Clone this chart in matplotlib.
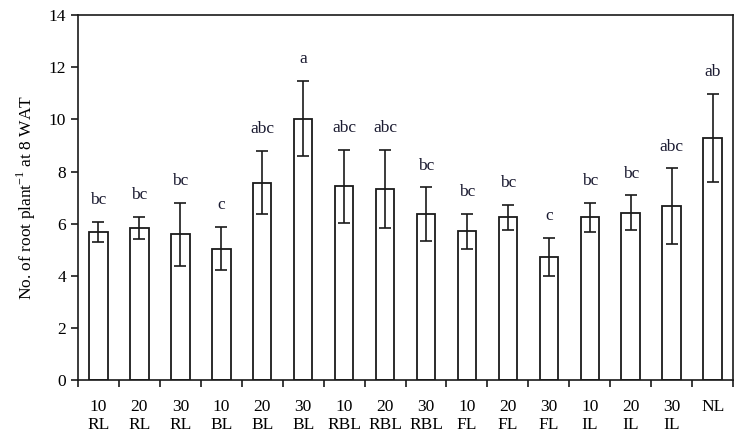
import matplotlib
matplotlib.use("Agg")
import matplotlib.pyplot as plt
import numpy as np

plt.rcParams['font.family'] = ['Liberation Serif', 'DejaVu Serif']

doses = ["10", "20", "30", "10", "20", "30", "10", "20", "30", "10", "20", "30", "10", "20", "30", "NL"]
lights = ["RL", "RL", "RL", "BL", "BL", "BL", "RBL", "RBL", "RBL", "FL", "FL", "FL", "IL", "IL", "IL", ""]
means = [5.69, 5.82, 5.59, 5.04, 7.57, 10.03, 7.44, 7.32, 6.37, 5.70, 6.24, 4.72, 6.24, 6.42, 6.67, 9.28]
errors = [0.38, 0.42, 1.20, 0.83, 1.21, 1.44, 1.40, 1.50, 1.02, 0.67, 0.49, 0.74, 0.55, 0.66, 1.45, 1.70]
letters = ["bc", "bc", "bc", "c", "abc", "a", "abc", "abc", "bc", "bc", "bc", "c", "bc", "bc", "abc", "ab"]

fig = plt.figure(figsize=(7.36, 4.47), dpi=100)
ax = fig.add_axes([0.106, 0.150, 0.890, 0.816])

x = np.arange(len(means))
ax.bar(x, means, width=0.45, color='white', edgecolor='#1a1a1a', linewidth=1.3, zorder=2)
ax.errorbar(x, means, yerr=errors, fmt='none', ecolor='#1a1a1a', elinewidth=1.2,
            capsize=4, capthick=1.2, zorder=3)

for xi, m, e, lab in zip(x, means, errors, letters):
    ax.annotate(lab, (xi, m + e), xytext=(0, 10), textcoords='offset points',
                ha='center', va='bottom', fontsize=12.5, color='#1a1a30')

ax.set_xlim(-0.5, len(means) - 0.5)
ax.set_ylim(0, 14)
ax.set_yticks(np.arange(0, 15, 2))
ax.set_xticks(x)
ax.set_xticklabels([f"{d}\n{l}" for d, l in zip(doses, lights)], fontsize=12.5, linespacing=1.15)
ax.set_xticks(np.arange(-0.5, len(means)), minor=True)
ax.tick_params(axis='x', which='major', length=0, pad=14)
ax.tick_params(axis='x', which='minor', length=5, width=1.2, direction='out', color='#1a1a1a')
ax.tick_params(axis='y', which='major', length=5, width=1.2, direction='out', labelsize=12.5, color='#1a1a1a')

ax.set_ylabel("No. of root plant$^{\\mathregular{-1}}$ at 8 WAT", fontsize=12.5, labelpad=8)

for s in ax.spines.values():
    s.set_linewidth(1.2)
    s.set_color('#1a1a1a')

fig.savefig("out.png", dpi=100)
